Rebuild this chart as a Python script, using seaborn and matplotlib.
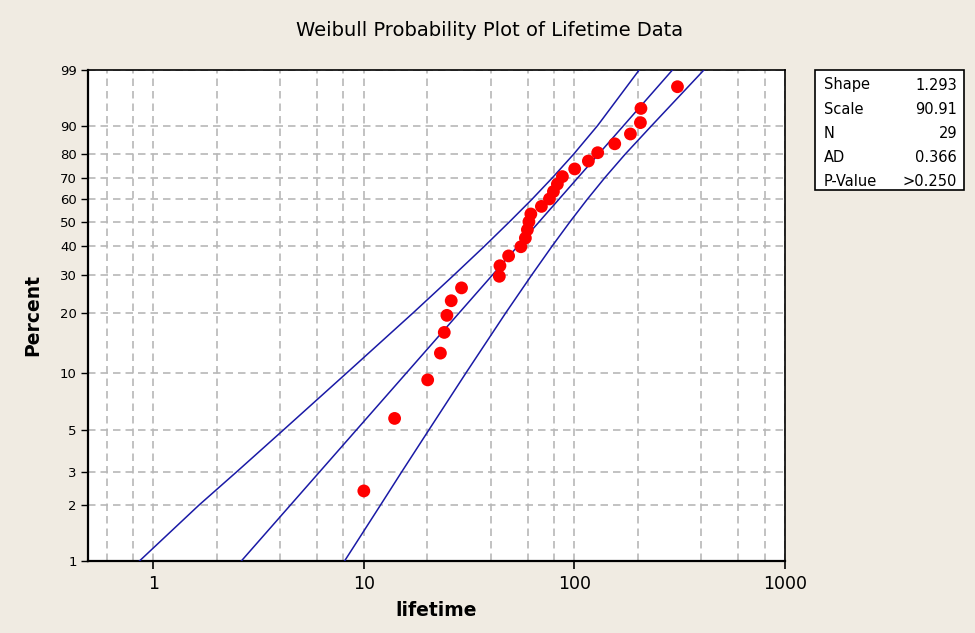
import numpy as np
import pandas as pd
import matplotlib
matplotlib.use("Agg")
import matplotlib.pyplot as plt
from matplotlib.patches import Rectangle
from matplotlib.ticker import FixedLocator, NullFormatter
import seaborn as sns

# ---------------- data ----------------
lifetime = [10.0, 14.0, 20.1, 23.1, 24.1, 24.8, 26.0, 29.1, 44.0, 44.3,
            48.7, 55.7, 58.5, 59.8, 60.8, 62.1, 69.7, 76.1, 79.5, 83.0,
            87.7, 100.3, 116.5, 129.0, 155.4, 184.5, 205.8, 207.0, 308.6]
percent = [2.381, 5.782, 9.184, 12.585, 15.986, 19.388, 22.789, 26.190,
           29.592, 32.993, 36.395, 39.796, 43.197, 46.599, 50.000, 53.401,
           56.803, 60.204, 63.605, 67.007, 70.408, 73.810, 77.211, 80.612,
           84.014, 87.415, 90.816, 94.218, 97.619]

fit_pct = [1, 99]
fit_x = [2.62, 292.0]

band_pct = [1, 2, 3, 5, 10, 20, 30, 40, 50, 60, 70, 80, 90, 99]
lower_x = [0.86, 1.65, 2.48, 4.13, 8.32, 17.2, 26.8, 37.4, 49.2, 62.8,
           78.8, 99.1, 128.9, 203.0]
upper_x = [8.1, 12.0, 15.1, 20.3, 30.6, 47.3, 62.7, 78.3, 95.3, 115.0,
           139.7, 174.1, 232.9, 412.0]

y_ticks = [1, 2, 3, 5, 10, 20, 30, 40, 50, 60, 70, 80, 90, 99]
x_ticks = [1, 10, 100, 1000]
x_grid_minor = [0.6, 0.8, 2, 4, 6, 8, 20, 40, 60, 80, 200, 400, 600, 800]

stat_names = ["Shape", "Scale", "N", "AD", "P-Value"]
stat_values = ["1.293", "90.91", "29", "0.366", ">0.250"]

title = "Weibull Probability Plot of Lifetime Data"
xlabel = "lifetime"
ylabel = "Percent"

# ---------------- figure ----------------
bg = "#F0EBE2"
plt.rcParams["font.family"] = ["DejaVu Sans"]
fig = plt.figure(figsize=(9.75, 6.33), dpi=100, facecolor=bg)
ax = fig.add_axes([88 / 975, 1 - 561 / 633, (785 - 88) / 975, (561 - 70) / 633])
ax.set_facecolor("white")


def fwd(p):
    p = np.clip(np.asarray(p, dtype=float), 1e-6, 100 - 1e-6)
    return np.log(-np.log(1 - p / 100.0))


def inv(t):
    return 100.0 * (1 - np.exp(-np.exp(np.asarray(t, dtype=float))))


ax.set_xscale("log")
ax.set_yscale("function", functions=(fwd, inv))

pts = pd.DataFrame({"lifetime": lifetime, "percent": percent})
fit = pd.DataFrame({"x": fit_x, "p": fit_pct})
lo = pd.DataFrame({"x": lower_x, "p": band_pct})
hi = pd.DataFrame({"x": upper_x, "p": band_pct})

line_color = "#1A1AA6"
for d in (lo, fit, hi):
    sns.lineplot(data=d, x="x", y="p", ax=ax, sort=False, estimator=None,
                 color=line_color, lw=1.1, zorder=3)

sns.scatterplot(data=pts, x="lifetime", y="percent", ax=ax, color="#FF0000",
                s=85, edgecolor="none", linewidth=0, zorder=4)

ax.set_xlim(0.49, 1000)
ax.set_ylim(1, 99)

ax.xaxis.set_major_locator(FixedLocator(x_ticks))
ax.set_xticklabels([str(v) for v in x_ticks])
ax.xaxis.set_minor_locator(FixedLocator(x_grid_minor))
ax.xaxis.set_minor_formatter(NullFormatter())
ax.yaxis.set_major_locator(FixedLocator(y_ticks))
ax.set_yticklabels([str(v) for v in y_ticks])
ax.yaxis.set_minor_locator(FixedLocator([]))

ax.tick_params(axis="x", which="major", length=6, width=1.2, labelsize=12.5,
               pad=4, colors="black")
ax.tick_params(axis="x", which="minor", length=0)
ax.tick_params(axis="y", which="major", length=5, width=1.0, labelsize=9.5,
               pad=3, colors="black")

grid_kw = dict(color="#B8B8B8", lw=1.2, linestyle=(0, (4.5, 3)))
ax.grid(True, which="major", axis="both", **grid_kw)
ax.grid(True, which="minor", axis="x", **grid_kw)
ax.set_axisbelow(True)

for side in ("left", "bottom"):
    ax.spines[side].set_linewidth(1.6)
for side in ("top", "right"):
    ax.spines[side].set_linewidth(1.2)
for s in ax.spines.values():
    s.set_color("black")

ax.set_xlabel(xlabel, fontsize=13.5, fontweight="bold", labelpad=6)
ax.set_ylabel(ylabel, fontsize=13.5, fontweight="bold", labelpad=13)

fig.text(0.502, 1 - 30 / 633, title, ha="center", va="center", fontsize=14)

# statistics box
bx0, bx1, by0, by1 = 815, 964, 70, 190
fig.patches.append(Rectangle((bx0 / 975, 1 - by1 / 633), (bx1 - bx0) / 975,
                             (by1 - by0) / 633, transform=fig.transFigure,
                             facecolor="white", edgecolor="black", lw=1.2))
row_y = [85, 110, 134, 158, 182]
for name, val, yy in zip(stat_names, stat_values, row_y):
    fig.text(824 / 975, 1 - yy / 633, name, ha="left", va="center", fontsize=10.5)
    fig.text(957 / 975, 1 - yy / 633, val, ha="right", va="center", fontsize=10.5)

fig.savefig("out.png", dpi=100, facecolor=bg)
